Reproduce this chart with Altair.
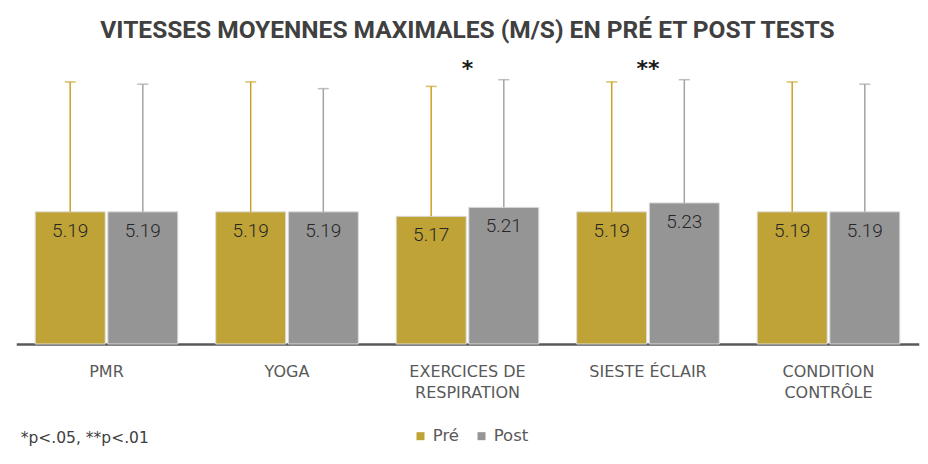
import altair as alt
import pandas as pd

groups = ["PMR", "YOGA", "EXERCICES DE RESPIRATION", "SIESTE ÉCLAIR", "CONDITION CONTRÔLE"]
series = ["Pré", "Post"]
pre = [5.19, 5.19, 5.17, 5.19, 5.19]
post = [5.19, 5.19, 5.21, 5.23, 5.19]
pre_sd = [0.58, 0.58, 0.58, 0.58, 0.58]
post_sd = [0.57, 0.55, 0.57, 0.55, 0.57]
sig = ["", "", "*", "**", ""]

bar_colors = ["#BFA336", "#959595"]
err_colors = ["#C9A227", "#A3A3A3"]

rows = []
for i, g in enumerate(groups):
    rows.append(dict(groupe=g, serie="Pré", valeur=pre[i], sd=pre_sd[i]))
    rows.append(dict(groupe=g, serie="Post", valeur=post[i], sd=post_sd[i]))
df = pd.DataFrame(rows)
df["haut"] = df["valeur"] + df["sd"]
df["label"] = df["valeur"].map(lambda v: f"{v:.2f}")

sig_df = pd.DataFrame({
    "groupe": groups,
    "sig": sig,
    "haut": [max(pre[i] + pre_sd[i], post[i] + post_sd[i]) for i in range(len(groups))],
})
sig_df = sig_df[sig_df["sig"] != ""]

label_expr = ("datum.value == 'EXERCICES DE RESPIRATION' ? ['EXERCICES DE', 'RESPIRATION'] : "
              "datum.value == 'CONDITION CONTRÔLE' ? ['CONDITION', 'CONTRÔLE'] : datum.label")

x = alt.X(
    "groupe:N", sort=groups,
    scale=alt.Scale(paddingInner=0.21, paddingOuter=0.105),
    axis=alt.Axis(
        title="*p<.05, **p<.01", titleX=4, titleY=98, titleAlign="left",
        titleBaseline="alphabetic", titleFont="DejaVu Sans", titleFontSize=15.5,
        titleFontWeight="normal", titleColor="#404040", titleAngle=0,
        labelAngle=0, labelFont="DejaVu Sans", labelFontSize=16, labelColor="#595959",
        labelPadding=19, labelLineHeight=21, labelBaseline="top", ticks=False,
        domainColor="#595959", domainWidth=2.5, labelExpr=label_expr,
    ),
)
xoff = alt.XOffset("serie:N", sort=series, scale=alt.Scale(paddingInner=0.036, paddingOuter=0))
yscale = alt.Scale(domain=[4.6, 5.9], zero=False, nice=False)
y = alt.Y("valeur:Q", scale=yscale, axis=None)

base = alt.Chart(df)

bars = base.mark_bar(stroke="#DCDCDC", strokeWidth=1).encode(
    x=x, xOffset=xoff, y=y, y2=alt.datum(4.6),
    color=alt.Color(
        "serie:N", sort=series,
        scale=alt.Scale(domain=series, range=bar_colors),
        legend=alt.Legend(
            title=None, orient="none", legendX=396, legendY=375, direction="horizontal",
            symbolType="square", symbolSize=64, symbolStrokeWidth=0,
            labelFont="DejaVu Sans", labelFontSize=16.5, labelColor="#595959",
            columnPadding=14, labelOffset=4, padding=0,
        ),
    ),
)

err = base.mark_rule(strokeWidth=1.5).encode(
    x=x, xOffset=xoff, y=y, y2="haut:Q",
    stroke=alt.Stroke("serie:N", sort=series, scale=alt.Scale(domain=series, range=err_colors), legend=None),
)

caps = base.mark_tick(orient="horizontal", size=11, thickness=1.5).encode(
    x=x, xOffset=xoff, y=alt.Y("haut:Q", scale=yscale, axis=None),
    fill=alt.Fill("serie:N", sort=series, scale=alt.Scale(domain=series, range=err_colors), legend=None),
)

vals = base.mark_text(baseline="top", dy=10, fontSize=19, font="Roboto", fontWeight=300,
                      color="#262626").encode(
    x=x, xOffset=xoff, y=y, text="label:N",
)

stars = alt.Chart(sig_df).mark_text(baseline="alphabetic", dy=-4, fontSize=22, fontWeight="bold",
                                    font="DejaVu Sans", color="#1A1A1A").encode(
    x=x, y=alt.Y("haut:Q", scale=yscale, axis=None), text="sig:N",
)

chart = alt.layer(bars, err, caps, vals, stars).properties(
    width=902.5, height=291.2,
    autosize="none",
    padding={"left": 16.25, "top": 52.8, "right": 9.25, "bottom": 120},
    title=alt.TitleParams(
        "VITESSES MOYENNES MAXIMALES (M/S) EN PRÉ ET POST TESTS",
        font="Roboto", fontSize=24.5, fontWeight="bold", color="#404040",
        anchor="middle", offset=9,
    ),
).configure_view(stroke=None)

chart.save("out.html", embed_options={"renderer": "svg", "actions": False})
